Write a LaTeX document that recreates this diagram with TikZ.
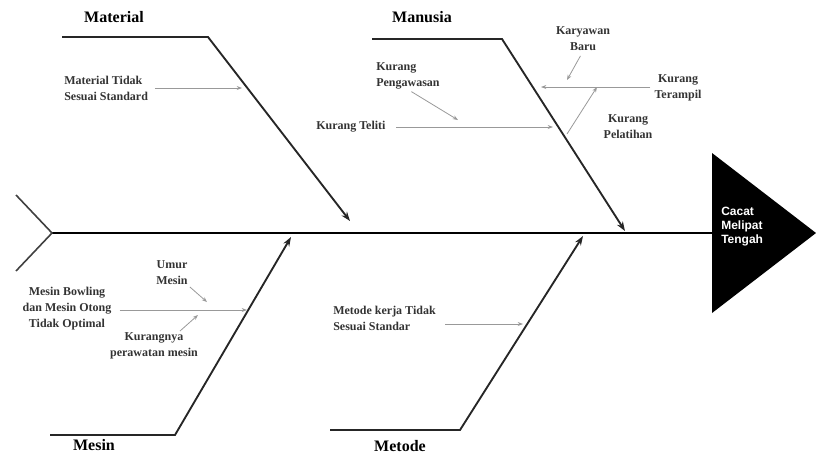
\documentclass[tikz,border=0pt]{standalone}
\usepackage{fontspec}
\setmainfont{Liberation Serif}
\newfontfamily\headfont{Liberation Sans}
\usetikzlibrary{arrows.meta,positioning}

\begin{document}
\begin{tikzpicture}[x=0.75pt,y=-0.75pt,
    spine/.style={line width=2.2pt, draw=black},
    bone/.style={line width=1.4pt, draw=black!85, -{Stealth[length=7pt,width=5pt]}},
    tail/.style={line width=1.2pt, draw=black!75},
    cause/.style={line width=0.6pt, draw=black!40, -{Stealth[length=4pt,width=3pt]}},
    category/.style={font=\fontsize{12}{14}\selectfont\bfseries, inner sep=1pt},
    causetext/.style={font=\fontsize{9}{12}\selectfont\bfseries, text=black!80, inner sep=0pt},
    headtext/.style={font=\headfont\fontsize{9}{10.5}\selectfont\bfseries, text=white, align=left, inner sep=0pt}
  ]
    \useasboundingbox (0,0) rectangle (816,455);

    % head and spine
    \coordinate (headbase) at (712,233);
    \fill (712,153) -- (816,233) -- (712,313) -- cycle;
    \node[headtext, anchor=west] (effect) at (721,227) {Cacat\\Melipat\\Tengah};
    \coordinate (tailpt) at (52,233);
    \draw[spine] (tailpt) -- (headbase);
    \draw[tail] (16,195) -- (tailpt) -- (16,271);

    % Material
    \coordinate (matA) at (62,37);
    \coordinate (matB) at (208,37);
    \coordinate (matE) at (350,221);
    \draw[bone] (matA) -- (matB) -- (matE);
    \node[category] (material) at (114,17) {Material};
    \node[causetext, align=left, anchor=west] (matstd) at (64,88) {Material Tidak\\Sesuai Standard};
    \coordinate (matstdend) at (242,88);
    \draw[cause, shorten <=5pt] (matstd.east |- matstdend) -- (matstdend);

    % Manusia
    \coordinate (manA) at (372,39);
    \coordinate (manB) at (502,39);
    \coordinate (manE) at (625,231);
    \draw[bone] (manA) -- (manB) -- (manE);
    \node[category] (manusia) at (422,17) {Manusia};
    \node[causetext, anchor=west] (teliti) at (316,127) {Kurang Teliti};
    \coordinate (telitiend) at (553,127);
    \draw[cause, shorten <=8pt] (teliti.east) -- (telitiend);
    \node[causetext, align=left, anchor=west] (pengawasan) at (376,76) {Kurang\\Pengawasan};
    \coordinate (pengawasanend) at (458,120);
    \draw[cause, shorten <=3pt] (pengawasan.south) -- (pengawasanend);
    \node[causetext, align=center] (terampil) at (678,88) {Kurang\\Terampil};
    \coordinate (terampilend) at (541,87);
    \draw[cause, shorten <=3pt] (terampil.west |- terampilend) -- (terampilend);
    \node[causetext, align=center] (karyawan) at (583,39) {Karyawan\\Baru};
    \coordinate (karyawanend) at (567,80);
    \draw[cause, shorten <=4pt] (karyawan.south) -- (karyawanend);
    \node[causetext, align=center] (pelatihan) at (628,127) {Kurang\\Pelatihan};
    \coordinate (pelatihanA) at (567,134);
    \coordinate (pelatihanB) at (597,87);
    \draw[cause] (pelatihanA) -- (pelatihanB);

    % Mesin
    \coordinate (mesA) at (50,435);
    \coordinate (mesB) at (175,435);
    \coordinate (mesE) at (291,237);
    \draw[bone] (mesA) -- (mesB) -- (mesE);
    \node[category, anchor=base] (mesin) at (94,450) {Mesin};
    \node[causetext, align=center] (bowling) at (67,309) {Mesin Bowling\\dan Mesin Otong\\Tidak Optimal};
    \coordinate (bowlingend) at (247,310);
    \draw[cause, shorten <=6pt] (bowling.east |- bowlingend) -- (bowlingend);
    \node[causetext, align=center] (umur) at (172,273) {Umur\\Mesin};
    \coordinate (umurend) at (207,302);
    \draw[cause, shorten <=2pt] (umur.south east) -- (umurend);
    \node[causetext, align=center] (perawatan) at (154,346) {Kurangnya\\perawatan mesin};
    \coordinate (perawatanA) at (180,331);
    \coordinate (perawatanB) at (198,315);
    \draw[cause] (perawatanA) -- (perawatanB);

    % Metode
    \coordinate (metA) at (330,430);
    \coordinate (metB) at (460,430);
    \coordinate (metE) at (583,236);
    \draw[bone] (metA) -- (metB) -- (metE);
    \node[category] (metode) at (400,446) {Metode};
    \node[causetext, align=left, anchor=west] (kerja) at (333,318) {Metode kerja Tidak\\Sesuai Standar};
    \coordinate (kerjaend) at (523,324);
    \draw[cause, shorten <=7pt] (kerja.east |- kerjaend) -- (kerjaend);
\end{tikzpicture}
\end{document}
